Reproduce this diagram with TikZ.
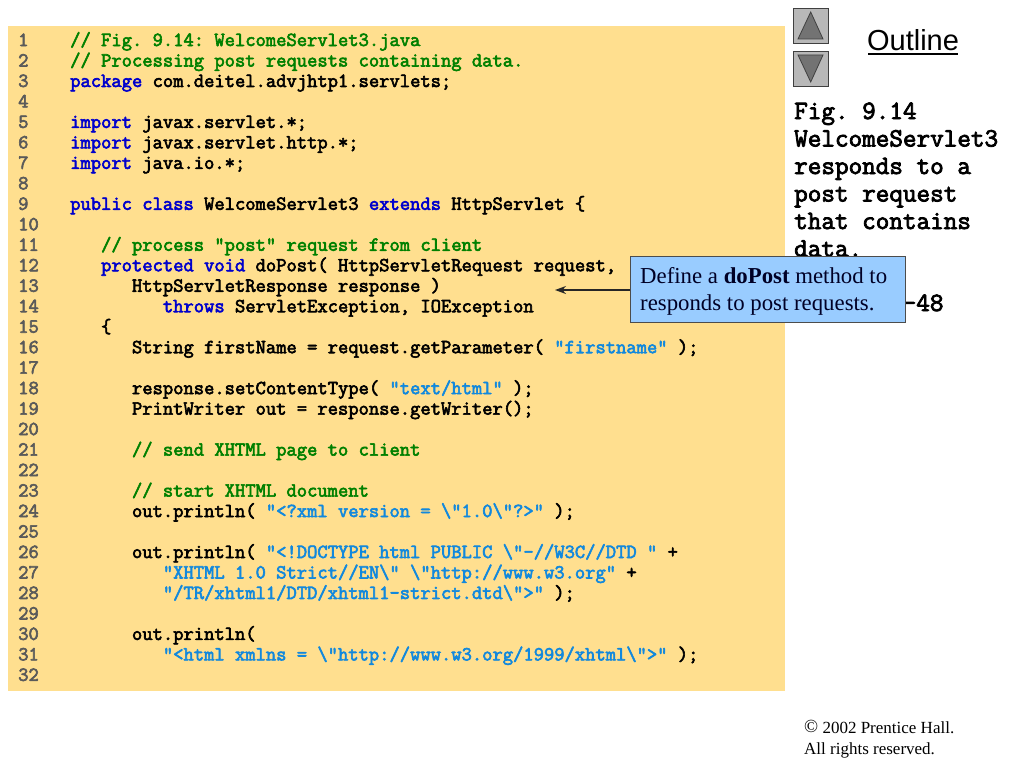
\documentclass[tikz,border=0pt]{standalone}
\usepackage{fontspec}
\setmainfont{Liberation Serif}
\newfontfamily\headfont{Liberation Sans}
\newfontfamily\codefont{Latin Modern Mono}[FakeBold=3]
\usetikzlibrary{arrows.meta}
\definecolor{panelbg}{HTML}{FFDF8F}
\definecolor{numgray}{HTML}{5A5A5A}
\definecolor{cmtgreen}{HTML}{008000}
\definecolor{kwblue}{HTML}{0000CC}
\definecolor{strblue}{HTML}{1188DD}
\definecolor{calloutblue}{HTML}{99CCFF}
\definecolor{btnfill}{HTML}{B8B8B8}
\definecolor{btnmark}{HTML}{737373}
\definecolor{btnline}{HTML}{404040}
\newcommand\Cmt[1]{\textcolor{cmtgreen}{#1}}
\newcommand\Kw[1]{\textcolor{kwblue}{#1}}
\newcommand\Str[1]{\textcolor{strblue}{#1}}
\newcommand\Bs{\textbackslash}
\tikzset{
  x=1pt,y=-1pt,
  codeline/.style={anchor=base west,inner sep=0pt,font=\codefont\frenchspacing\fontsize{20}{20}\selectfont},
  numline/.style={codeline,text=numgray},
  sideline/.style={anchor=base west,inner sep=0pt,font=\codefont\frenchspacing\fontsize{26.4}{27}\selectfont},
  btn/.style={draw=btnline,fill=btnfill,line width=0.8pt},
  btnmk/.style={draw=btnline,fill=btnmark,line width=0.8pt,line join=miter},
  callout/.style={draw=black!70,fill=calloutblue,line width=0.8pt,minimum width=275pt,minimum height=66pt,inner sep=0pt,anchor=north west},
  calltext/.style={anchor=base west,inner sep=0pt,font=\fontsize{22.8}{26}\selectfont,text=black!85!blue},
  copytext/.style={anchor=base west,inner sep=0pt,font=\fontsize{17}{20}\selectfont},
}
\newcommand\CL[3]{%
  \pgfmathsetmacro\ypos{46+20.48*(#1-1)}%
  \pgfmathsetmacro\xpos{70+10.3*#2}%
  \node[numline] (n#1) at (18,\ypos) {#1};%
  \node[codeline] (c#1) at (\xpos,\ypos) {#3};}
\newcommand\NL[1]{%
  \pgfmathsetmacro\ypos{46+20.48*(#1-1)}%
  \node[numline] (n#1) at (18,\ypos) {#1};}
\begin{document}
\begin{tikzpicture}
\useasboundingbox (0,0) rectangle (1024,768);
\fill[white] (0,0) rectangle (1024,768);
\fill[panelbg] (8,26) rectangle (785,691);
\CL{1}{0}{\Cmt{// Fig. 9.14: WelcomeServlet3.java}}
\CL{2}{0}{\Cmt{// Processing post requests containing data.}}
\CL{3}{0}{\Kw{package} com.deitel.advjhtp1.servlets;}
\NL{4}
\CL{5}{0}{\Kw{import} javax.servlet.*;}
\CL{6}{0}{\Kw{import} javax.servlet.http.*;}
\CL{7}{0}{\Kw{import} java.io.*;}
\NL{8}
\CL{9}{0}{\Kw{public class} WelcomeServlet3 \Kw{extends} HttpServlet \{}
\NL{10}
\CL{11}{3}{\Cmt{// process "post" request from client}}
\CL{12}{3}{\Kw{protected void} doPost( HttpServletRequest request,}
\CL{13}{6}{HttpServletResponse response )}
\CL{14}{9}{\Kw{throws} ServletException, IOException}
\CL{15}{3}{\{}
\CL{16}{6}{String firstName = request.getParameter( \Str{"firstname"} );}
\NL{17}
\CL{18}{6}{response.setContentType( \Str{"text/html"} );}
\CL{19}{6}{PrintWriter out = response.getWriter();}
\NL{20}
\CL{21}{6}{\Cmt{// send XHTML page to client}}
\NL{22}
\CL{23}{6}{\Cmt{// start XHTML document}}
\CL{24}{6}{out.println( \Str{"<?xml version = \Bs"1.0\Bs"?>"} );}
\NL{25}
\CL{26}{6}{out.println( \Str{"<!DOCTYPE html PUBLIC \Bs"-//W3C//DTD "} +}
\CL{27}{9}{\Str{"XHTML 1.0 Strict//EN\Bs" \Bs"http://www.w3.org"} +}
\CL{28}{9}{\Str{"/TR/xhtml1/DTD/xhtml1-strict.dtd\Bs">"} );}
\NL{29}
\CL{30}{6}{out.println(}
\CL{31}{9}{\Str{"<html xmlns = \Bs"http://www.w3.org/1999/xhtml\Bs">"} );}
\NL{32}
% navigation buttons
\draw[btn] (793,8) rectangle (828,43);
\draw[btnmk] (798,39) -- (810.7,12) -- (823,39) -- cycle;
\draw[btn] (793,51) rectangle (828,86);
\draw[btnmk] (798,55) -- (823,55) -- (810.7,82) -- cycle;
\node[anchor=base,inner sep=0pt,font=\headfont\fontsize{29}{34}\selectfont] (outline) at (913,50) {Outline};
\draw[line width=1.2pt] (868,54) -- (958,54);
% side text
\node[sideline] (s1) at (794,119) {Fig. 9.14};
\node[sideline] (s2) at (794,146.5) {WelcomeServlet3};
\node[sideline] (s3) at (794,174) {responds to a};
\node[sideline] (s4) at (794,201.5) {post request};
\node[sideline] (s5) at (794,229) {that contains};
\node[sideline] (s6) at (794,256.5) {data.};
\node[sideline] (s7) at (902.5,311) {-48};
% callout
\node[callout] (box) at (629.5,256) {};
\coordinate (tip) at (555,290);
\draw[-{Stealth[length=11pt,width=8pt]},line width=1.3pt,black!85] (box.west |- tip) -- (tip);
\node[calltext] (t1) at (640,283) {Define a \textbf{doPost} method to};
\node[calltext] (t2) at (640,310.5) {responds to post requests.};
% copyright
\node[copytext] (cr1) at (804,733) {\raisebox{1pt}{\fontsize{18.5}{20}\selectfont ©} 2002 Prentice Hall.};
\node[copytext] (cr2) at (804,754) {All rights reserved.};
\end{tikzpicture}
\end{document}
